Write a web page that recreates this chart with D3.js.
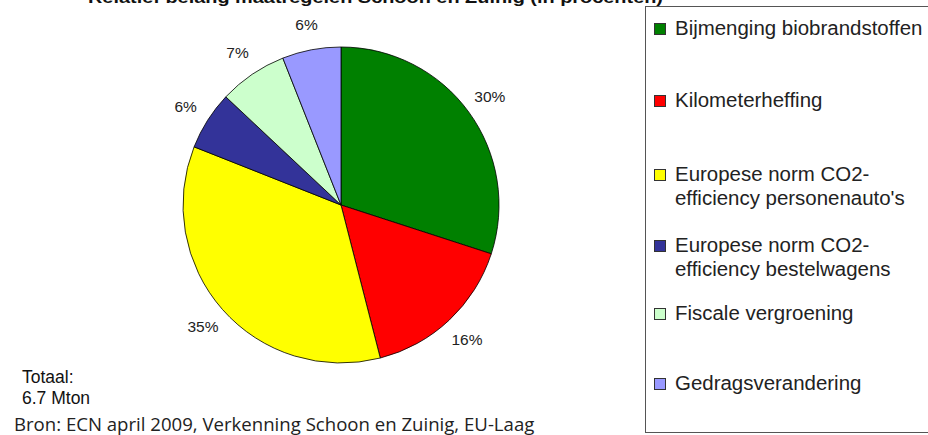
<!DOCTYPE html>
<html>
<head>
<meta charset="utf-8">
<script src="https://cdn.jsdelivr.net/npm/d3@7"></script>
<style>
  body { margin: 0; background: #fff; }
  svg { display: block; }
</style>
</head>
<body>
<svg id="chart" width="928" height="435"></svg>
<script>
// Chart data
const categories = [
    "Bijmenging biobrandstoffen",
    "Kilometerheffing",
    "Europese norm CO2-efficiency personenauto's",
    "Europese norm CO2-efficiency bestelwagens",
    "Fiscale vergroening",
    "Gedragsverandering"
];
const values = [30, 16, 35, 6, 7, 6];
const labels = ["30%", "16%", "35%", "6%", "7%", "6%"];
const legendLines = [
    ["Bijmenging biobrandstoffen"],
    ["Kilometerheffing"],
    ["Europese norm CO2-", "efficiency personenauto's"],
    ["Europese norm CO2-", "efficiency bestelwagens"],
    ["Fiscale vergroening"],
    ["Gedragsverandering"]
];
const colors = ["#008000", "#ff0000", "#ffff00", "#333399", "#ccffcc", "#9999ff"];

const svg = d3.select("#chart");
const arial = "Liberation Sans, Arial, sans-serif";

// Title (cut off at the top, as in the original)
svg.append("text")
    .attr("x", 88)
    .attr("y", 3)
    .attr("textLength", 575)
    .attr("lengthAdjust", "spacingAndGlyphs")
    .style("font-family", arial)
    .style("font-weight", "bold")
    .style("font-size", "17px")
    .attr("fill", "#111")
    .text("Relatief belang maatregelen Schoon en Zuinig (in procenten)");

// Pie
const cx = 341, cy = 205, r = 158;
const color = d3.scaleOrdinal().domain(categories).range(colors);
const pie = d3.pie().sort(null).value((d, i) => values[i]);
const arcs = pie(categories);
const arc = d3.arc().innerRadius(0).outerRadius(r);
const labelArc = d3.arc().innerRadius(184).outerRadius(184);

const g = svg.append("g").attr("transform", "translate(" + cx + "," + cy + ")");

g.selectAll("path")
    .data(arcs)
    .enter()
    .append("path")
    .attr("d", arc)
    .attr("fill", (d) => color(d.data))
    .attr("stroke", "#000")
    .attr("stroke-width", 0.8);

g.selectAll(".lbl")
    .data(arcs)
    .enter()
    .append("text")
    .attr("class", "lbl")
    .attr("transform", (d) => "translate(" + labelArc.centroid(d) + ")")
    .attr("text-anchor", "middle")
    .attr("dy", "0.36em")
    .style("font-family", arial)
    .style("font-size", "15.5px")
    .attr("fill", "#222")
    .text((d, i) => labels[i]);

// Legend box
svg.append("rect")
    .attr("x", 645.5)
    .attr("y", 6.5)
    .attr("width", 300)
    .attr("height", 426)
    .attr("fill", "#fff")
    .attr("stroke", "#555")
    .attr("stroke-width", 1);

const legendBase = [35, 107, 181, 252, 320, 390];
const legend = svg.selectAll(".leg")
    .data(categories)
    .enter()
    .append("g")
    .attr("class", "leg")
    .attr("transform", (d, i) => "translate(654," + legendBase[i] + ")");

legend.append("rect")
    .attr("x", 0.5)
    .attr("y", -11.5)
    .attr("width", 11)
    .attr("height", 11)
    .attr("fill", (d) => color(d))
    .attr("stroke", "#333")
    .attr("stroke-width", 1);

legend.append("text")
    .attr("transform", "translate(21,0) scale(1.06,1)")
    .style("font-family", arial)
    .style("font-size", "19.3px")
    .attr("fill", "#222")
    .selectAll("tspan")
    .data((d, i) => legendLines[i])
    .enter()
    .append("tspan")
    .attr("x", 0)
    .attr("y", (d, j) => j * 24.5)
    .text((d) => d);

// Total
svg.append("text")
    .attr("x", 22)
    .attr("y", 383)
    .style("font-family", arial)
    .style("font-size", "17.5px")
    .attr("fill", "#111")
    .text("Totaal:");
svg.append("text")
    .attr("x", 22)
    .attr("y", 404)
    .style("font-family", arial)
    .style("font-size", "17.5px")
    .attr("fill", "#111")
    .text("6.7 Mton");

// Source
svg.append("text")
    .attr("x", 14)
    .attr("y", 431)
    .style("font-family", "Open Sans, sans-serif")
    .style("font-size", "18.6px")
    .attr("fill", "#222")
    .text("Bron: ECN april 2009, Verkenning Schoon en Zuinig, EU-Laag");
</script>
</body>
</html>
